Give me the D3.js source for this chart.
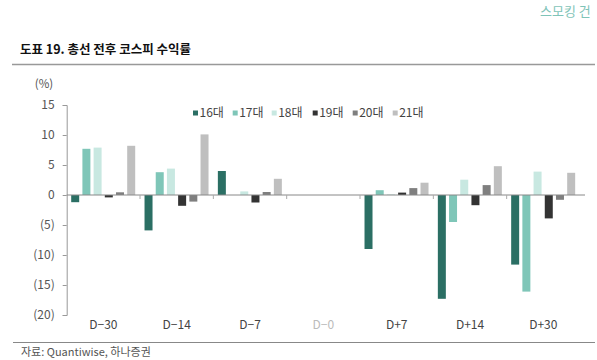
<!DOCTYPE html>
<html><head><meta charset="utf-8">
<script src="https://cdn.jsdelivr.net/npm/d3@7"></script>
<style>
body{margin:0;background:#fff;}
svg{display:block;font-family:"Noto Sans CJK KR","Noto Sans",sans-serif;}
</style></head>
<body><svg id="c" width="597" height="360"></svg>
<script>
const categories = ["D\u221230","D\u221214","D\u22127","D\u22120","D+7","D+14","D+30"];
const seriesNames = ["16대","17대","18대","19대","20대","21대"];
const s16 = [-1.2, -5.9, 4.0, null, -9.0, -17.3, -11.6];
const s17 = [7.7, 3.8, null, null, 0.8, -4.5, -16.1];
const s18 = [7.9, 4.4, 0.6, null, 0.1, 2.55, 3.9];
const s19 = [-0.4, -1.8, -1.25, null, 0.4, -1.7, -3.9];
const s20 = [0.45, -1.1, 0.5, null, 1.15, 1.65, -0.8];
const s21 = [8.2, 10.1, 2.7, null, 2.05, 4.8, 3.7];
const seriesValues = [s16, s17, s18, s19, s20, s21];
const colors = ["#2b6f64","#7fc6b8","#c8e8e1","#333333","#7f7f7f","#bfbfbf"];
const yTicks = [15,10,5,0,-5,-10,-15,-20];
const yTickLabels = ["15","10","5","0","(5)","(10)","(15)","(20)"];

const svg = d3.select("#c");
const x0 = d3.scaleBand().domain(categories).range([66.7, 580]).padding(0);
const x1 = d3.scaleBand().domain(seriesNames).range([4.5, 68.5]).paddingInner(0.286).paddingOuter(0);
const y = d3.scaleLinear().domain([-20, 15]).range([315, 105]);

// header text
svg.append("text").attr("x",540).attr("y",16).attr("font-size",13).attr("fill","#7fc4b8").text("스모킹 건");
// title
svg.append("text").attr("x",20).attr("y",53.5).attr("font-size",12.5).attr("font-weight","bold").attr("fill","#111").text("도표 19. 총선 전후 코스피 수익률");
svg.append("line").attr("x1",12).attr("x2",595).attr("y1",64.5).attr("y2",64.5).attr("stroke","#999").attr("stroke-width",1.3);

// y unit
svg.append("text").attr("x",44).attr("y",88).attr("text-anchor","middle").attr("font-size",11.5).attr("fill","#555").text("(%)");

// y axis
const yAxis = d3.axisLeft(y).tickValues(yTicks).tickFormat((d,i)=>yTickLabels[i]).tickSize(4).tickPadding(8);
const ya = svg.append("g").attr("transform","translate(66.7,0)").call(yAxis);
ya.select(".domain").attr("stroke","#999");
ya.selectAll(".tick line").attr("stroke","#999");
ya.selectAll(".tick text").attr("font-size",12).attr("fill","#555").attr("font-family","'Noto Sans CJK KR','Noto Sans',sans-serif");

// bars
categories.forEach((c, ci) => {
  const g = svg.append("g").attr("transform",`translate(${x0(c)},0)`);
  seriesNames.forEach((s, si) => {
    const v = seriesValues[si][ci];
    if (v === null) return;
    g.append("rect")
      .attr("x", x1(s)).attr("width", x1.bandwidth())
      .attr("y", y(Math.max(0, v))).attr("height", Math.abs(y(v) - y(0)))
      .attr("fill", colors[si]);
  });
});

// x axis at zero
const xAxis = d3.axisBottom(x0).tickSize(0).tickFormat("");
const xa = svg.append("g").attr("transform",`translate(0,${y(0)})`).call(xAxis);
xa.select(".domain").attr("stroke","#888").attr("d","M66.7,0H585");
x0.domain().slice(1).forEach(c => {
  svg.append("line").attr("x1",x0(c)).attr("x2",x0(c)).attr("y1",y(0)).attr("y2",y(0)+4).attr("stroke","#aaa");
});

// category labels
svg.append("g").selectAll("text").data(categories).join("text")
  .attr("x", d => x0(d) + x0.bandwidth()/2).attr("y", 328.5)
  .attr("text-anchor","middle").attr("font-size",12)
  .attr("fill", (d,i) => i === 3 ? "#bbb" : "#444").text(d => d);

// legend
const legendX = [193, 232.7, 271.7, 312.7, 352.7, 392.7];
seriesNames.forEach((s, i) => {
  svg.append("rect").attr("x", legendX[i]).attr("y", 110.5).attr("width", 5).attr("height", 5).attr("fill", colors[i]);
  svg.append("text").attr("x", legendX[i] + 6.5).attr("y", 117).attr("font-size", 12).attr("fill", "#444").text(s);
});

// bottom rule & source
svg.append("line").attr("x1",13).attr("x2",595).attr("y1",342.5).attr("y2",342.5).attr("stroke","#888").attr("stroke-width",1);
svg.append("text").attr("x",21).attr("y",356).attr("font-size",11).attr("fill","#555").text("자료: Quantiwise, 하나증권");
</script></body></html>
